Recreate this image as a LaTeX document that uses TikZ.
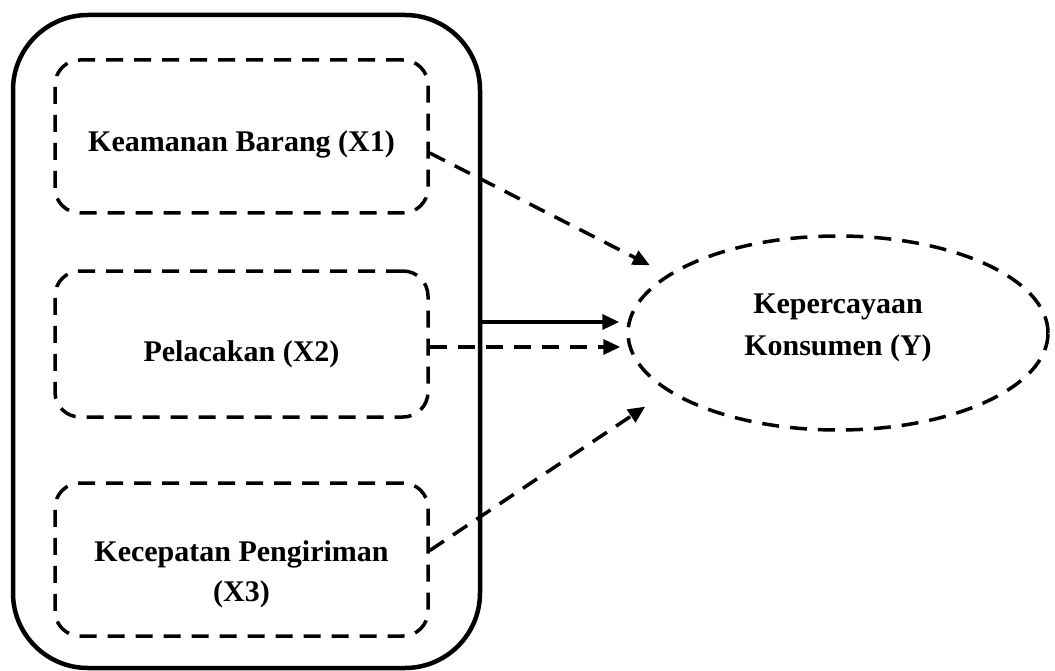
\documentclass[tikz,border=0pt]{standalone}
\usepackage{fontspec}
\setmainfont{Liberation Serif}
\usetikzlibrary{arrows.meta, shapes.geometric}
\tikzset{
  varbox/.style={draw, line width=3.5pt, dash pattern=on 17pt off 11pt,
    rounded corners=25pt, minimum width=373pt, inner sep=0pt},
  vartext/.style={align=center, inner sep=0pt,
    font=\fontsize{30}{40}\selectfont\bfseries},
  varellipse/.style={draw, ellipse, line width=3.5pt, dash pattern=on 17pt off 11pt,
    minimum width=420pt, minimum height=194pt, inner sep=0pt},
  link/.style={line width=3.5pt, -{Triangle[length=17pt,width=15pt]}},
  dashlink/.style={link, dash pattern=on 17pt off 11pt}
}

\begin{document}
\begin{tikzpicture}[x=1pt, y=-1pt]
\useasboundingbox (0,0) rectangle (1055,671);
% Outer frame
    \node[draw, line width=4.5pt, rounded corners=75pt, minimum width=467pt,
      minimum height=653pt, inner sep=0pt] (frame) at (246.5,341.5) {};
% Independent variables
    \node[varbox, minimum height=153pt] (x1) at (241.5,136.5) {};
    \node[varbox, minimum height=146pt] (x2) at (241.5,344) {};
    \node[varbox, minimum height=153pt] (x3) at (241.5,559.5) {};
    \node[vartext] (x1text) at ([yshift=-8pt]x1.center) {Keamanan Barang (X1)};
    \node[vartext] (x2text) at ([yshift=-10pt]x2.center) {Pelacakan (X2)};
    \node[vartext] (x3text) at ([yshift=-15pt]x3.center) {Kecepatan Pengiriman\\(X3)};
% Dependent variable
    \node[varellipse] (cons) at (838,333) {};
    \node[vartext, font=\fontsize{30}{42}\selectfont\bfseries] (constext)
      at ([yshift=5pt]cons.center) {Kepercayaan\\Konsumen (Y)};
% Arrows
    \draw[dashlink, shorten >=20pt] ([yshift=-16.5pt]x1.east) -- (cons.161);
    \draw[link, shorten >=7pt] ([yshift=19.5pt]frame.east) -- ([yshift=11pt]cons.west);
    \draw[dashlink, shorten >=6pt] ([yshift=-3pt]x2.east) -- ([yshift=-14pt]cons.west);
    \draw[dashlink, shorten >=27pt] ([yshift=9pt]x3.east) -- (cons.199);
\end{tikzpicture}
\end{document}
